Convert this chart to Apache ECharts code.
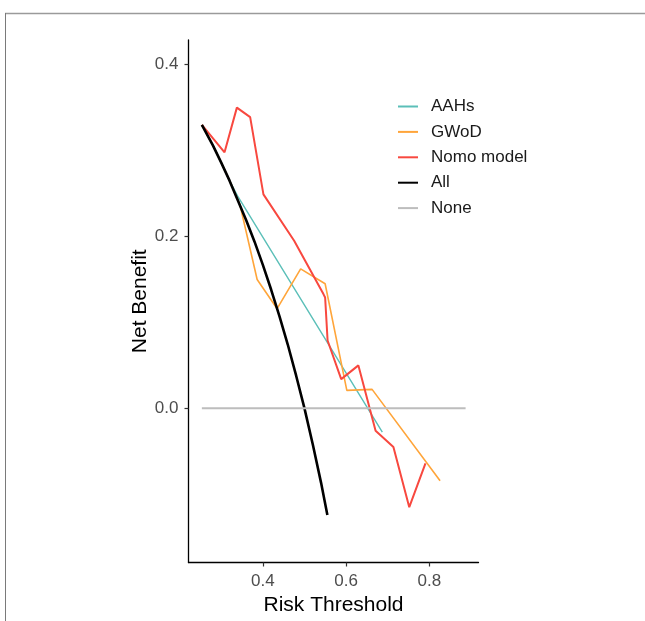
<!DOCTYPE html>
<html>
<head>
<meta charset="utf-8">
<script src="https://cdn.jsdelivr.net/npm/echarts@6/dist/echarts.min.js"></script>
<style>
html,body{margin:0;padding:0;background:#fff;}
#chart{width:645px;height:621px;}
</style>
</head>
<body>
<div id="chart"></div>
<script>
// ---- data ----
const seriesNames = ['AAHs', 'GWoD', 'Nomo model', 'All', 'None'];

const aahsX = [0.2535, 0.28, 0.30, 0.32, 0.341, 0.687];
const aahsY = [0.330, 0.306, 0.286, 0.265, 0.2457, -0.0276];

const gwodX = [0.2535, 0.28, 0.30, 0.32, 0.345, 0.3863, 0.4343, 0.4908, 0.5496, 0.6017, 0.6624, 0.8257];
const gwodY = [0.330, 0.306, 0.286, 0.265, 0.237, 0.150, 0.116, 0.1624, 0.145, 0.0209, 0.0221, -0.0843];

const nomoX = [0.2535, 0.308, 0.3376, 0.3695, 0.4014, 0.4752, 0.5455, 0.5496, 0.5555, 0.5882, 0.6295, 0.6708, 0.7136, 0.7517, 0.7906];
const nomoY = [0.330, 0.298, 0.350, 0.339, 0.249, 0.195, 0.133, 0.129, 0.079, 0.034, 0.050, -0.026, -0.045, -0.115, -0.064];

const allX = [0.2535, 0.28, 0.30, 0.32, 0.34, 0.36, 0.38, 0.40, 0.42, 0.44, 0.46, 0.48, 0.50, 0.52, 0.54, 0.555];
const allY = [0.330, 0.306, 0.286, 0.265, 0.242, 0.219, 0.194, 0.167, 0.138, 0.107, 0.074, 0.038, 0.000, -0.042, -0.087, -0.124];

const noneX = [0.2535, 0.887];
const noneY = [0, 0];

const xTickValues = [0.4, 0.6, 0.8];
const yTickValues = [0.0, 0.2, 0.4];

const xTitle = 'Risk Threshold';
const yTitle = 'Net Benefit';

// ---- build ----
function zip(xs, ys) { return xs.map((x, i) => [x, ys[i]]); }

const colors = ['#5BBFB8', '#FFA53A', '#F8483F', '#000000', '#BDBDBD'];
const widths = [1.4, 1.6, 2.0, 2.6, 2.0];
const dataSets = [zip(aahsX, aahsY), zip(gwodX, gwodY), zip(nomoX, nomoY), zip(allX, allY), zip(noneX, noneY)];

const FONT = 'Liberation Sans, Arial, sans-serif';

const chart = echarts.init(document.getElementById('chart'));
chart.setOption({
  animation: false,
  backgroundColor: '#ffffff',
  graphic: [
    { type: 'line', shape: { x1: 5, y1: 13.5, x2: 645, y2: 13.5 }, style: { stroke: '#9a9a9a', lineWidth: 1.5 } },
    { type: 'line', shape: { x1: 5.5, y1: 13, x2: 5.5, y2: 621 }, style: { stroke: '#7a7a7a', lineWidth: 1 } }
  ],
  grid: { left: 188.5, right: 166.5, top: 40, bottom: 58.5, containLabel: false },
  legend: {
    left: 398, top: 96.5, orient: 'vertical', padding: 0,
    itemWidth: 20, itemHeight: 2, itemGap: 5.4,
    icon: 'rect',
    textStyle: { fontFamily: FONT, fontSize: 17, color: '#1a1a1a', lineHeight: 20, padding: [0, 0, 0, 8] },
    data: seriesNames.map((n, i) => ({ name: n, itemStyle: { color: colors[i] } }))
  },
  xAxis: {
    type: 'value', min: 0.2214, max: 0.918,
    name: xTitle, nameLocation: 'middle', nameGap: 32,
    nameTextStyle: { fontFamily: FONT, fontSize: 21, color: '#000' },
    axisLine: { show: true, onZero: false, lineStyle: { color: '#000', width: 1.3 } },
    axisTick: { show: true, length: 4, lineStyle: { color: '#333', width: 1.2 }, customValues: xTickValues },
    axisLabel: { fontFamily: FONT, fontSize: 17, color: '#4d4d4d', margin: 10, customValues: xTickValues,
                 formatter: v => v.toFixed(1) },
    splitLine: { show: false }
  },
  yAxis: {
    type: 'value', min: -0.1794, max: 0.4287,
    name: yTitle, nameLocation: 'middle', nameGap: 37, nameRotate: 90,
    nameTextStyle: { fontFamily: FONT, fontSize: 21, color: '#000' },
    axisLine: { show: true, onZero: false, lineStyle: { color: '#000', width: 1.3 } },
    axisTick: { show: true, length: 4, lineStyle: { color: '#333', width: 1.2 }, customValues: yTickValues },
    axisLabel: { fontFamily: FONT, fontSize: 17, color: '#4d4d4d', margin: 10, customValues: yTickValues,
                 formatter: v => v.toFixed(1) },
    splitLine: { show: false }
  },
  series: seriesNames.map((n, i) => ({
    name: n, type: 'line', data: dataSets[i],
    showSymbol: false, symbol: 'none',
    lineStyle: { color: colors[i], width: widths[i] },
    itemStyle: { color: colors[i] },
    z: 2 + i
  }))
});
</script>
</body>
</html>
